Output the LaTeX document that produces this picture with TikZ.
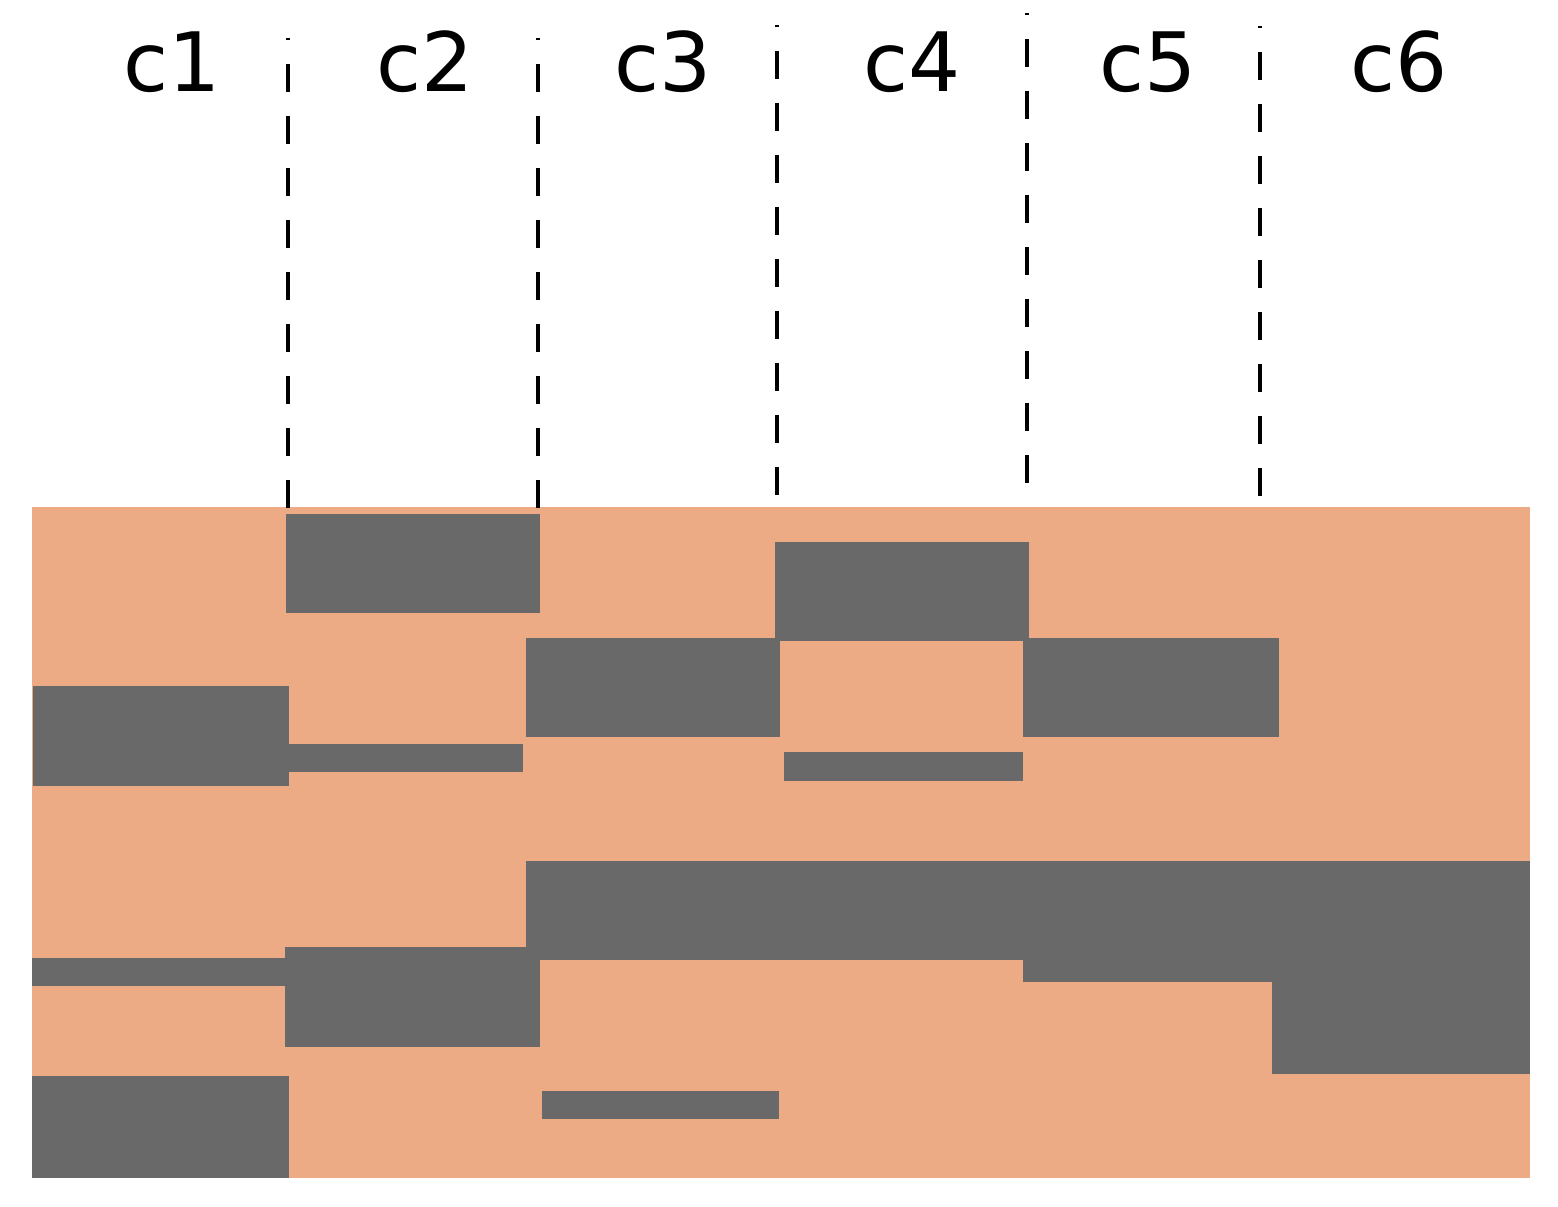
\documentclass[tikz,border=0pt]{standalone}
\usepackage{fontspec}
\setmainfont{DejaVu Sans}
\definecolor{bgorange}{HTML}{EDAB85}
\definecolor{bargrey}{HTML}{696969}
\begin{document}
\begin{tikzpicture}[x=0.01cm,y=-0.01cm,
  lab/.style={anchor=base,inner sep=0pt,font=\fontsize{23.3pt}{28pt}\selectfont},
  bar/.style={fill=bargrey,draw=none},
  divider/.style={draw=black,line width=0.9pt,dash pattern=on 0.28cm off 0.24cm,dash phase=0.26cm}]
\useasboundingbox (0,0) rectangle (1558,1207);
\fill[white] (0,0) rectangle (1558,1207);
% background band
\fill[bgorange] (32,507) rectangle (1530,1178);
% bars
\path[bar] (286,514) rectangle (540,613);   % c2 top
\path[bar] (775,542) rectangle (1029,641);  % c4 top
\path[bar] (526,638) rectangle (780,737);   % c3
\path[bar] (1023,638) rectangle (1279,737); % c5
\path[bar] (33,686) rectangle (289,786);    % c1
\path[bar] (289,744) rectangle (523,772);   % c2 thin
\path[bar] (784,752) rectangle (1023,781);  % c4 thin
\path[bar] (526,861) rectangle (1530,960);  % long row c3-c6
\path[bar] (1023,958) rectangle (1272,982); % c5 extension
\path[bar] (1272,958) rectangle (1530,1074);% c6 extension
\path[bar] (32,958) rectangle (286,986);    % c1 thin
\path[bar] (285,947) rectangle (540,1047);  % c2 lower
\path[bar] (32,1076) rectangle (289,1178);  % c1 bottom
\path[bar] (542,1091) rectangle (779,1119); % c3 thin
% column labels
\node[lab] (c1) at (172,92) {c1};
\node[lab] (c2) at (425,92) {c2};
\node[lab] (c3) at (663,92) {c3};
\node[lab] (c4) at (912,92) {c4};
\node[lab] (c5) at (1148,92) {c5};
\node[lab] (c6) at (1399,92) {c6};
% dividers
\coordinate (d1t) at (288,38);  \coordinate (d1b) at (288,512);
\coordinate (d2t) at (538,38);  \coordinate (d2b) at (538,512);
\coordinate (d3t) at (777,25);  \coordinate (d3b) at (777,500);
\coordinate (d4t) at (1027,13); \coordinate (d4b) at (1027,488);
\coordinate (d5t) at (1260,26); \coordinate (d5b) at (1260,505);
\draw[divider] (d1t) -- (d1b);
\draw[divider] (d2t) -- (d2b);
\draw[divider] (d3t) -- (d3b);
\draw[divider] (d4t) -- (d4b);
\draw[divider] (d5t) -- (d5b);
\end{tikzpicture}
\end{document}
